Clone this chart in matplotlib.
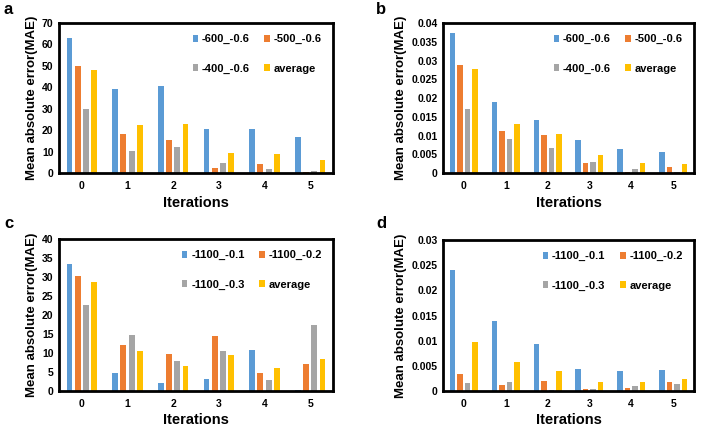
import numpy as np
import matplotlib.pyplot as plt

iterations = [0, 1, 2, 3, 4, 5]

labels_ab = ["-600_-0.6", "-500_-0.6", "-400_-0.6", "average"]
labels_cd = ["-1100_-0.1", "-1100_-0.2", "-1100_-0.3", "average"]

# panel a
a_600 = [63, 39, 40.5, 20.5, 20.5, 17]
a_500 = [50, 18, 15.5, 2.3, 4, 0.5]
a_400 = [30, 10.5, 12, 4.5, 1.7, 0.8]
a_avg = [48, 22.5, 23, 9.5, 8.8, 6]

# panel b
b_600 = [0.0373, 0.019, 0.0142, 0.0088, 0.0065, 0.0055]
b_500 = [0.0287, 0.0112, 0.0101, 0.0028, 0.0004, 0.0016]
b_400 = [0.017, 0.009, 0.0067, 0.003, 0.0012, 0.0003]
b_avg = [0.0277, 0.0131, 0.0103, 0.0048, 0.0027, 0.0024]

# panel c
c_01 = [33.5, 4.8, 2.0, 3.2, 10.7, 0.3]
c_02 = [30.2, 12.2, 9.7, 14.6, 4.8, 7.2]
c_03 = [22.7, 14.8, 8.0, 10.6, 2.9, 17.5]
c_avg = [28.8, 10.6, 6.6, 9.5, 6.1, 8.4]

# panel d
d_01 = [0.024, 0.014, 0.0094, 0.0044, 0.004, 0.0042]
d_02 = [0.0034, 0.0012, 0.002, 0.0003, 0.0006, 0.0017]
d_03 = [0.0016, 0.0017, 0.0002, 0.0003, 0.0009, 0.0013]
d_avg = [0.0097, 0.0057, 0.0039, 0.0018, 0.0018, 0.0024]

colors = ["#5B9BD5", "#ED7D31", "#A5A5A5", "#FFC000"]

plt.rcParams['font.family'] = ['Liberation Sans', 'DejaVu Sans']
plt.rcParams['font.weight'] = 'bold'

fig = plt.figure(figsize=(7.02, 4.28), dpi=100)

W, H = 702, 428
boxes = {
    'a': (59, 23, 333, 173),
    'b': (443, 23, 694, 173),
    'c': (59, 239, 333, 391),
    'd': (443, 240, 694, 391),
}
letter_pos = {'a': (4, 10), 'b': (376, 10), 'c': (4, 224), 'd': (376, 224)}


def panel(key, series, labels, ymax, ystep, yfmt):
    x0, y0, x1, y1 = boxes[key]
    ax = fig.add_axes([x0 / W, 1 - y1 / H, (x1 - x0) / W, (y1 - y0) / H])
    x = np.arange(len(iterations))
    step = 0.18
    width = 0.13
    bars = []
    for i, (vals, lab, col) in enumerate(zip(series, labels, colors)):
        bars.append(ax.bar(x + (i - 1.5) * step, vals, width, color=col, label=lab))
    ax.set_xlim(-0.5, 5.5)
    ax.set_ylim(0, ymax)
    ticks = np.arange(0, ymax + ystep / 2, ystep)
    ax.set_yticks(ticks)
    ax.set_yticklabels([yfmt(t) for t in ticks])
    ax.set_xticks(x)
    ax.set_xticklabels([str(i) for i in iterations])
    ax.tick_params(length=0, labelsize=7.5)
    ax.tick_params(axis='y', pad=4)
    ax.tick_params(axis='x', pad=6)
    for s in ax.spines.values():
        s.set_linewidth(2)
    ax.set_xlabel("Iterations", fontsize=10.5, fontweight='bold', labelpad=3)
    ax.set_ylabel("Mean absolute error(MAE)", fontsize=9.5, fontweight='bold', labelpad=3)
    # legend filled row by row
    order = [0, 2, 1, 3]
    ax.legend([bars[i] for i in order], [labels[i] for i in order],
              ncol=2, loc='upper right', frameon=False, fontsize=8,
              handlelength=0.5, handleheight=0.6, handletextpad=0.35,
              labelspacing=1.75, columnspacing=1.3, borderaxespad=0.6)
    lx, ly = letter_pos[key]
    fig.text(lx / W, 1 - ly / H, key, fontsize=12, fontweight='bold', va='center', ha='left')
    return ax


def fmt_int(t):
    return "%d" % round(t)


def fmt_small(t):
    if t == 0:
        return "0"
    return ("%.3f" % t).rstrip('0')


panel('a', [a_600, a_500, a_400, a_avg], labels_ab, 70, 10, fmt_int)
panel('b', [b_600, b_500, b_400, b_avg], labels_ab, 0.04, 0.005, fmt_small)
panel('c', [c_01, c_02, c_03, c_avg], labels_cd, 40, 5, fmt_int)
panel('d', [d_01, d_02, d_03, d_avg], labels_cd, 0.03, 0.005, fmt_small)

fig.savefig("out.png", dpi=100)
